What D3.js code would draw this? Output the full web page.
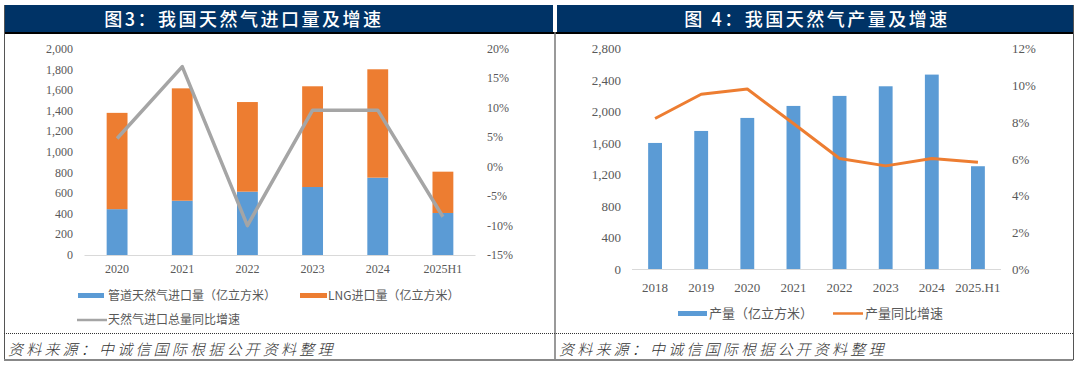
<!DOCTYPE html>
<html><head><meta charset="utf-8">
<script src="https://cdn.jsdelivr.net/npm/d3@7"></script>
<style>
html,body{margin:0;padding:0;background:#fff;}
svg{display:block;}
</style></head>
<body>
<svg id="c" width="1080" height="367"></svg>
<script>
// ---- Data: Figure 3 (imports) ----
const impYears = ["2020","2021","2022","2023","2024","2025H1"];
const pipeline = [445, 527, 615, 660, 751, 408];
const lng = [935, 1091, 870, 978, 1052, 401];
const impGrowth = [4.8, 17.0, -10.0, 9.6, 9.6, -8.5];
const impLeftTicks = [0,200,400,600,800,1000,1200,1400,1600,1800,2000];
const impRightTicks = [-15,-10,-5,0,5,10,15,20];

// ---- Data: Figure 4 (production) ----
const prodYears = ["2018","2019","2020","2021","2022","2023","2024","2025.H1"];
const production = [1597, 1749, 1914, 2066, 2193, 2315, 2463, 1302];
const prodGrowth = [8.17, 9.49, 9.77, 7.9, 6.0, 5.6, 6.0, 5.8];
const prodLeftTicks = [0,400,800,1200,1600,2000,2400,2800];
const prodRightTicks = [0,2,4,6,8,10,12];

const BLUE="#5b9bd5", ORANGE="#ed7d31", GRAY="#a5a5a5", TXT="#595959";
const serif = "'Liberation Serif','Times New Roman',serif";
const cjk = "'Noto Sans CJK SC','Noto Sans',sans-serif";
const svg = d3.select("#c");
const fmt = d3.format(",");

// ---- frame ----
svg.append("rect").attr("x",4).attr("y",5).attr("width",549).attr("height",27).attr("fill","#003366");
svg.append("rect").attr("x",557).attr("y",5).attr("width",516).attr("height",27).attr("fill","#003366");
svg.append("line").attr("x1",4).attr("x2",1073).attr("y1",33).attr("y2",33).attr("stroke","#000").attr("stroke-width",2);
svg.append("line").attr("x1",4.5).attr("x2",4.5).attr("y1",5).attr("y2",360).attr("stroke","#555").attr("stroke-width",1);
svg.append("line").attr("x1",1073.5).attr("x2",1073.5).attr("y1",5).attr("y2",360).attr("stroke","#555").attr("stroke-width",1);
svg.append("line").attr("x1",555).attr("x2",555).attr("y1",32).attr("y2",360).attr("stroke","#777").attr("stroke-width",1.5);
svg.append("line").attr("x1",4).attr("x2",1073).attr("y1",333.5).attr("y2",333.5).attr("stroke","#333").attr("stroke-width",1).attr("stroke-dasharray","1,1");
svg.append("line").attr("x1",4).attr("x2",1073).attr("y1",360).attr("y2",360).attr("stroke","#888").attr("stroke-width",2);

svg.append("text").attr("x",243).attr("y",26).attr("text-anchor","middle").attr("fill","#fff")
  .attr("font-family",cjk).attr("font-size",18).attr("font-weight",500).attr("letter-spacing","2.5px")
  .attr("x",244).text("图3：我国天然气进口量及增速");
svg.append("text").attr("x",817).attr("y",26).attr("text-anchor","middle").attr("fill","#fff")
  .attr("font-family",cjk).attr("font-size",18).attr("font-weight",500).attr("letter-spacing","2.5px")
  .text("图 4：我国天然气产量及增速");

[8, 559].forEach(x=>{
  svg.append("text").attr("x",x).attr("y",355).attr("fill","#333").attr("font-family",cjk)
    .attr("font-size",15).attr("font-weight",300).attr("font-style","italic").attr("letter-spacing","3.2px").text("资料来源：中诚信国际根据公开资料整理");
});

// ---- Figure 3 ----
{
  const x = d3.scaleBand().domain(impYears).range([84.5,475.5]).paddingInner(0.68).paddingOuter(0.34);
  const yL = d3.scaleLinear().domain([0,2000]).range([255,49]);
  const yR = d3.scaleLinear().domain([-15,20]).range([255,49]);
  const g = svg.append("g");
  g.append("line").attr("x1",84.5).attr("x2",475.5).attr("y1",255.5).attr("y2",255.5).attr("stroke","#d9d9d9");
  g.selectAll(".tl").data(impLeftTicks).join("text").attr("x",73).attr("y",d=>yL(d)+4)
    .attr("text-anchor","end").attr("fill",TXT).attr("font-family",serif).attr("font-size",12).text(d=>fmt(d));
  g.selectAll(".tr").data(impRightTicks).join("text").attr("x",487).attr("y",d=>yR(d)+4)
    .attr("text-anchor","start").attr("fill",TXT).attr("font-family",serif).attr("font-size",12).text(d=>d+"%");
  g.selectAll(".xl").data(impYears).join("text").attr("x",d=>x(d)+x.bandwidth()/2).attr("y",273)
    .attr("text-anchor","middle").attr("fill",TXT).attr("font-family",serif).attr("font-size",12).text(d=>d);
  const stack = d3.stack().keys(["p","l"])(impYears.map((d,i)=>({p:pipeline[i],l:lng[i]})));
  const cols = [BLUE, ORANGE];
  stack.forEach((s,k)=>{
    g.selectAll(".b"+k).data(s).join("rect")
      .attr("x",(d,i)=>x(impYears[i])).attr("width",x.bandwidth())
      .attr("y",d=>yL(d[1])).attr("height",d=>yL(d[0])-yL(d[1])).attr("fill",cols[k]);
  });
  const line = d3.line().x((d,i)=>x(impYears[i])+x.bandwidth()/2).y(d=>yR(d));
  g.append("path").datum(impGrowth).attr("d",line).attr("fill","none").attr("stroke",GRAY).attr("stroke-width",3.5).attr("stroke-linejoin","round");
  g.append("rect").attr("x",78).attr("y",293).attr("width",26).attr("height",5).attr("fill",BLUE);
  g.append("text").attr("x",108).attr("y",300).attr("fill",TXT).attr("font-family",cjk).attr("font-size",12).text("管道天然气进口量（亿立方米）");
  g.append("rect").attr("x",300).attr("y",293).attr("width",27).attr("height",5).attr("fill",ORANGE);
  g.append("text").attr("x",328).attr("y",300).attr("fill",TXT).attr("font-family",cjk).attr("font-size",12).text("LNG进口量（亿立方米）");
  g.append("line").attr("x1",77).attr("x2",107).attr("y1",320).attr("y2",320).attr("stroke",GRAY).attr("stroke-width",2.5);
  g.append("text").attr("x",108).attr("y",324).attr("fill",TXT).attr("font-family",cjk).attr("font-size",12).text("天然气进口总量同比增速");
}

// ---- Figure 4 ----
{
  const x = d3.scaleBand().domain(prodYears).range([632,1001]).paddingInner(0.7).paddingOuter(0.35);
  const yL = d3.scaleLinear().domain([0,2800]).range([269,48]);
  const yR = d3.scaleLinear().domain([0,12]).range([269,48]);
  const g = svg.append("g");
  g.append("line").attr("x1",632).attr("x2",1001).attr("y1",269.5).attr("y2",269.5).attr("stroke","#d9d9d9");
  g.selectAll(".tl").data(prodLeftTicks).join("text").attr("x",621).attr("y",d=>yL(d)+5)
    .attr("text-anchor","end").attr("fill",TXT).attr("font-family",serif).attr("font-size",13).text(d=>fmt(d));
  g.selectAll(".tr").data(prodRightTicks).join("text").attr("x",1012).attr("y",d=>yR(d)+5)
    .attr("text-anchor","start").attr("fill",TXT).attr("font-family",serif).attr("font-size",13).text(d=>d+"%");
  g.selectAll(".xl").data(prodYears).join("text").attr("x",d=>x(d)+x.bandwidth()/2).attr("y",292)
    .attr("text-anchor","middle").attr("fill",TXT).attr("font-family",serif).attr("font-size",13).text(d=>d);
  g.selectAll(".b").data(production).join("rect")
    .attr("x",(d,i)=>x(prodYears[i])).attr("width",x.bandwidth())
    .attr("y",d=>yL(d)).attr("height",d=>yL(0)-yL(d)).attr("fill",BLUE);
  const line = d3.line().x((d,i)=>x(prodYears[i])+x.bandwidth()/2).y(d=>yR(d));
  g.append("path").datum(prodGrowth).attr("d",line).attr("fill","none").attr("stroke",ORANGE).attr("stroke-width",3).attr("stroke-linejoin","round");
  g.append("rect").attr("x",678).attr("y",311).attr("width",29).attr("height",5).attr("fill",BLUE);
  g.append("text").attr("x",709).attr("y",318).attr("fill",TXT).attr("font-family",cjk).attr("font-size",13).text("产量（亿立方米）");
  g.append("line").attr("x1",833).attr("x2",863).attr("y1",313.5).attr("y2",313.5).attr("stroke",ORANGE).attr("stroke-width",2.5);
  g.append("text").attr("x",865).attr("y",318).attr("fill",TXT).attr("font-family",cjk).attr("font-size",13).text("产量同比增速");
}
</script>
</body></html>
